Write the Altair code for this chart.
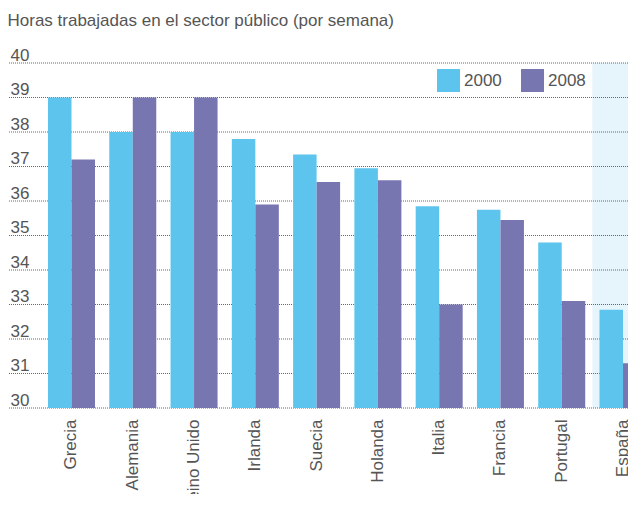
import altair as alt
import pandas as pd

countries = ["Grecia", "Alemania", "Reino Unido", "Irlanda", "Suecia",
             "Holanda", "Italia", "Francia", "Portugal", "España"]
h2000 = [39.0, 38.0, 38.0, 37.8, 37.35, 36.95, 35.85, 35.75, 34.8, 32.85]
h2008 = [37.2, 39.0, 39.0, 35.9, 36.55, 36.6, 33.0, 35.45, 33.1, 31.3]
years = ["2000", "2008"]
y_ticks = [30, 31, 32, 33, 34, 35, 36, 37, 38, 39, 40]
highlight = ["España"]

rows = []
for c, a, b in zip(countries, h2000, h2008):
    rows.append({"pais": c, "year": years[0], "horas": a})
    rows.append({"pais": c, "year": years[1], "horas": b})
df = pd.DataFrame(rows)
grid_df = pd.DataFrame({"v": y_ticks})
hl_df = pd.DataFrame({"pais": highlight})

FONT = "Liberation Sans"
GRAY = "#555555"
W, H = 620, 345

xscale = alt.Scale(domain=countries, range=[32.85, 645.65],
                   paddingInner=0.233, paddingOuter=0.1165)
yscale = alt.Scale(domain=[30, 40], zero=False, nice=False)

xaxis = alt.Axis(title=None, labelAngle=270, labelFontSize=17,
                 labelFont=FONT, labelColor=GRAY, labelPadding=11,
                 ticks=False, tickSize=0, domain=False, grid=False,
                 labelOverlap=False)
yaxis = alt.Axis(title=None, values=y_ticks, labelAlign="left",
                 labelBaseline="alphabetic", labelPadding=-2,
                 labelOffset=-3, labelFontSize=17, labelFont=FONT,
                 labelColor=GRAY, ticks=False, tickSize=0,
                 domain=False, grid=False, labelOverlap=False,
                 labelBound=False, labelFlush=False)

hl = alt.Chart(hl_df).mark_bar(color="#E6F5FC", width=alt.RelativeBandSize(1.304), clip=True).encode(
    x=alt.X("pais:N", scale=xscale, sort=countries, axis=xaxis),
    y=alt.datum(40, scale=yscale, axis=yaxis),
    y2=alt.datum(30),
)

grid = alt.Chart(grid_df).mark_rule(color="#666666", strokeDash=[1, 1], strokeWidth=1).encode(
    y=alt.Y("v:Q", scale=yscale, axis=yaxis),
)

bars = alt.Chart(df).mark_bar(clip=True).encode(
    x=alt.X("pais:N", scale=xscale, sort=countries, axis=xaxis),
    xOffset=alt.XOffset("year:N", sort=years,
                        scale=alt.Scale(paddingInner=0, paddingOuter=0)),
    y=alt.Y("horas:Q", scale=yscale, axis=yaxis),
    y2=alt.datum(30),
    color=alt.Color("year:N", sort=years,
                    scale=alt.Scale(domain=years, range=["#5DC5ED", "#7876B1"]),
                    legend=alt.Legend(title=None, orient="none", legendX=429,
                                      legendY=6, direction="horizontal",
                                      symbolType="square", symbolSize=529,
                                      symbolStrokeWidth=0, symbolOpacity=1,
                                      labelFontSize=17, labelFont=FONT,
                                      labelColor=GRAY, labelOffset=4,
                                      columnPadding=19, padding=0)),
)

chart = alt.layer(hl, grid, bars).properties(
    width=W, height=H,
    title=alt.Title("Horas trabajadas en el sector público (por semana)",
                    anchor="start", fontSize=17, font=FONT, color=GRAY,
                    fontWeight="normal", offset=16),
    autosize=alt.AutoSizeParams(type="none"),
    padding={"left": 0, "top": 55, "right": 0, "bottom": 86},
).configure_view(stroke=None)

chart.save("out.html", embed_options={"renderer": "svg", "actions": False})
